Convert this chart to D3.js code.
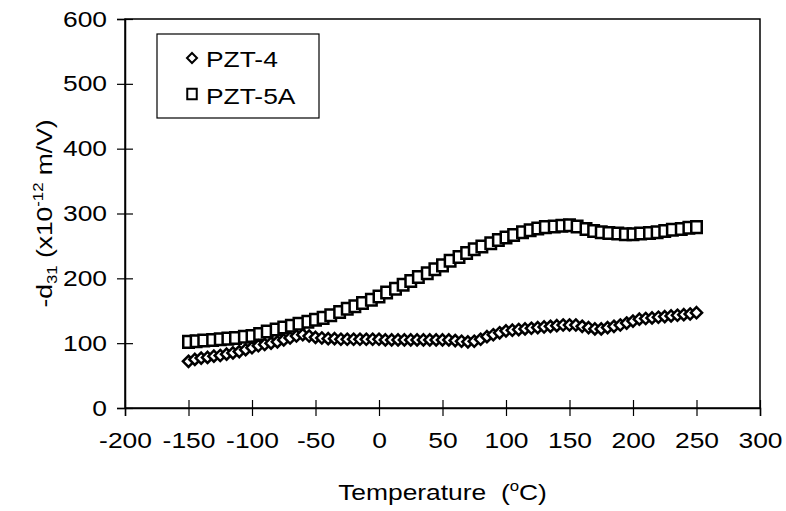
<!DOCTYPE html>
<html>
<head>
<meta charset="utf-8">
<script src="https://cdn.jsdelivr.net/npm/d3@7"></script>
<style>
  html, body { margin: 0; padding: 0; background: #fff; }
  svg { display: block; font-family: "Liberation Sans", Arial, sans-serif; }
</style>
</head>
<body>
<svg id="chart" width="786" height="511"></svg>
<script>
// PZT-4: temperature (°C) and -d31 (x10^-12 m/V)
const pzt4Temp = [-150,-145,-140,-135,-130,-125,-120,-115,-110,-105,-100,-95,-90,-85,-80,-75,-70,-65,-60,-55,
  -50,-45,-40,-35,-30,-25,-20,-15,-10,-5,0,5,10,15,20,25,30,35,40,45,50,55,60,65,70,75,80,85,90,95,
  100,105,110,115,120,125,130,135,140,145,150,155,160,165,170,175,180,185,190,195,200,205,210,215,220,225,230,235,240,245,250];
const pzt4Vals = [72,75,77,78,80,81,83,85,87,90,93,96,98,100,102,105,108,111,113,111,
  109,108,107,107,106,106,106,106,106,106,106,105,105,105,105,105,105,105,105,105,105,105,104,103,102,103,106,110,113,116,
  119,120,121,122,123,124,125,126,127,128,128,128,126,124,122,122,124,126,128,131,134,137,138,139,140,141,142,143,144,145,147];

// PZT-5A: temperature (°C) and -d31 (x10^-12 m/V)
const pzt5aTemp = [-150,-144,-138,-131,-125,-119,-113,-106,-100,-94,-88,-81,-75,-69,-63,-56,-50,-44,-38,-31,
  -25,-19,-13,-6,0,6,13,19,25,31,38,44,50,56,63,69,75,81,88,94,100,106,113,119,125,131,138,144,150,156,
  163,169,175,181,188,194,200,206,213,219,225,231,238,244,250];
const pzt5aVals = [102,103,104,105,106,107,108,110,111,114,118,121,124,127,130,133,136,139,143,148,
  153,157,162,167,172,178,184,190,196,202,208,214,220,227,233,239,245,249,254,259,263,267,271,274,277,279,280,281,282,280,
  276,273,271,270,269,268,268,269,270,271,273,275,276,278,279];

const xTicks = [-200,-150,-100,-50,0,50,100,150,200,250,300];
const yTicks = [0,100,200,300,400,500,600];

const seriesNames = ["PZT-4", "PZT-5A"];

const svg = d3.select("#chart");
const plot = { left: 125, right: 760, top: 19, bottom: 408 };

const x = d3.scaleLinear().domain([-200, 300]).range([plot.left, plot.right]);
const y = d3.scaleLinear().domain([0, 600]).range([plot.bottom, plot.top]);

const FONT = 22;     // text size
const WIDE = 1.2;    // horizontal stretch of the lettering
const plain = d => String(d);

// plot frame
svg.append("rect")
  .attr("x", plot.left).attr("y", plot.top)
  .attr("width", plot.right - plot.left).attr("height", plot.bottom - plot.top)
  .attr("fill", "none").attr("stroke", "#000").attr("stroke-width", 1.5);

// x axis: cross ticks
const xAxis = svg.append("g").attr("transform", `translate(0,${plot.bottom})`)
  .call(d3.axisBottom(x).tickValues(xTicks).tickSize(8).tickFormat(plain).tickPadding(16));
xAxis.select(".domain").attr("stroke", "#000").attr("stroke-width", 1.5);
xAxis.selectAll(".tick line").attr("y1", -8).attr("y2", 8).attr("stroke", "#000").attr("stroke-width", 1.2);
xAxis.selectAll(".tick text")
  .attr("font-size", FONT).attr("font-family", "Liberation Sans, Arial, sans-serif").attr("fill", "#000")
  .attr("transform", `scale(${WIDE},1)`);

// y axis: cross ticks
const yAxis = svg.append("g").attr("transform", `translate(${plot.left},0)`)
  .call(d3.axisLeft(y).tickValues(yTicks).tickSize(8).tickFormat(plain));
yAxis.select(".domain").attr("stroke", "#000").attr("stroke-width", 1.5);
yAxis.selectAll(".tick line").attr("x1", -8).attr("x2", 8).attr("stroke", "#000").attr("stroke-width", 1.2);
yAxis.selectAll(".tick text")
  .attr("font-size", FONT).attr("font-family", "Liberation Sans, Arial, sans-serif").attr("fill", "#000")
  .attr("x", -18 / WIDE)
  .attr("transform", `scale(${WIDE},1)`);

// marker shapes
const diamondType = {
  draw(ctx, size) {
    const r = Math.sqrt(size / 2);
    ctx.moveTo(0, -r); ctx.lineTo(r, 0); ctx.lineTo(0, r); ctx.lineTo(-r, 0); ctx.closePath();
  }
};
const squareType = {
  draw(ctx, size) {
    const w = Math.sqrt(size) / 2;
    const h = w * 1.1;
    ctx.moveTo(-w, -h); ctx.lineTo(w, -h); ctx.lineTo(w, h); ctx.lineTo(-w, h); ctx.closePath();
  }
};
const diamond = d3.symbol().type(diamondType).size(62);
const square = d3.symbol().type(squareType).size(110);

const pzt5a = pzt5aTemp.map((t, i) => ({ t, v: pzt5aVals[i] }));
const pzt4 = pzt4Temp.map((t, i) => ({ t, v: pzt4Vals[i] }));

svg.append("g").selectAll("path").data(pzt5a).join("path")
  .attr("d", square)
  .attr("transform", d => `translate(${x(d.t)},${y(d.v)})`)
  .attr("fill", "#fff").attr("stroke", "#000").attr("stroke-width", 2.5);

svg.append("g").selectAll("path").data(pzt4).join("path")
  .attr("d", diamond)
  .attr("transform", d => `translate(${x(d.t)},${y(d.v)})`)
  .attr("fill", "#fff").attr("stroke", "#000").attr("stroke-width", 2.5);

// legend
const lg = svg.append("g");
lg.append("rect").attr("x", 157).attr("y", 34).attr("width", 162).attr("height", 84)
  .attr("fill", "#fff").attr("stroke", "#000").attr("stroke-width", 1.2);
const legendRows = [
  { name: seriesNames[0], sym: d3.symbol().type(diamondType).size(50), cy: 58, base: 67 },
  { name: seriesNames[1], sym: d3.symbol().type(squareType).size(90), cy: 94, base: 104 }
];
legendRows.forEach(r => {
  lg.append("path").attr("d", r.sym).attr("transform", `translate(192,${r.cy})`)
    .attr("fill", "#fff").attr("stroke", "#000").attr("stroke-width", 2);
  lg.append("text").attr("transform", `translate(206,${r.base}) scale(${WIDE},1)`)
    .attr("font-size", FONT).attr("fill", "#000").text(r.name);
});

// axis titles
const xt = svg.append("text")
  .attr("transform", `translate(${(plot.left + plot.right) / 2},500) scale(${WIDE},1)`)
  .attr("text-anchor", "middle").attr("font-size", FONT).attr("fill", "#000")
  .style("white-space", "pre");
xt.append("tspan").text("Temperature  (");
xt.append("tspan").attr("dy", -9).attr("font-size", 14).text("o");
xt.append("tspan").attr("dy", 9).text("C)");

const yt = svg.append("text")
  .attr("transform", `translate(52,${(plot.top + plot.bottom) / 2}) rotate(-90) scale(${WIDE},1)`)
  .attr("text-anchor", "middle").attr("font-size", FONT).attr("fill", "#000")
  .style("white-space", "pre");
yt.append("tspan").text("-d");
yt.append("tspan").attr("dy", 5).attr("font-size", 14).text("31");
yt.append("tspan").attr("dy", -5).text(" (x10");
yt.append("tspan").attr("dy", -9).attr("font-size", 14).text("-12");
yt.append("tspan").attr("dy", 9).text(" m/V)");
</script>
</body>
</html>
